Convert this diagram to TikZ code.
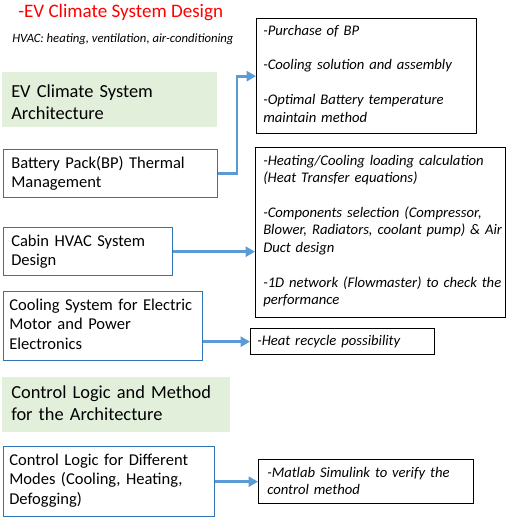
\documentclass[tikz,border=0pt]{standalone}
\usepackage{fontspec}
\setmainfont{Carlito}
\usetikzlibrary{arrows.meta}
\definecolor{boxblue}{HTML}{2E75B6}
\definecolor{arrblue}{HTML}{5B9BD5}
\definecolor{greenfill}{HTML}{E2EFDA}
\tikzset{
  px/.style={x=0.75pt,y=-0.75pt},
  leftbox/.style={draw=boxblue,line width=1pt,fill=white,anchor=north west,inner sep=0pt,rectangle},
  rightbox/.style={draw=black,line width=1pt,fill=white,anchor=north west,inner sep=0pt,rectangle},
  greenbox/.style={fill=greenfill,draw=none,anchor=north west,inner sep=0pt,rectangle},
  lefttext/.style={anchor=base west,inner sep=0pt,text width=#1,align=left,font=\fontsize{12.4}{14.8}\selectfont},
  greentext/.style={anchor=base west,inner sep=0pt,text width=#1,align=left,font=\fontsize{13.8}{17.2}\selectfont},
  righttext/.style={anchor=base west,inner sep=0pt,text width=#1,align=left,font=\fontsize{11}{13.1}\selectfont\itshape},
  arr/.style={draw=arrblue,line width=2.2pt,-{Triangle[length=7pt,width=7.5pt]}}
}
\begin{document}
\begin{tikzpicture}[px]
\useasboundingbox (0,0) rectangle (516,525);
% title
\node[anchor=base west,inner sep=0pt,text=red,font=\fontsize{14.3}{17}\selectfont] (title) at (18,17) {-EV Climate System Design};
\node[anchor=base west,inner sep=0pt,font=\fontsize{9.5}{11}\selectfont\itshape] (hvac) at (12,42) {HVAC: heating, ventilation, air-conditioning};
% green boxes
\node[greenbox,minimum width=215*0.75pt,minimum height=55*0.75pt] (g1) at (2,72) {};
\node[greentext=200*0.75pt] (g1t) at (11,97) {EV Climate System\\Architecture};
\node[greenbox,minimum width=228*0.75pt,minimum height=55*0.75pt] (g2) at (2,377) {};
\node[greentext=220*0.75pt] (g2t) at (11,398) {Control Logic and Method\\for the Architecture};
% left boxes
\node[leftbox,minimum width=214*0.75pt,minimum height=48*0.75pt] (bp) at (3,149) {};
\node[lefttext=205*0.75pt] (bpt) at (11,168) {Battery Pack(BP) Thermal\\Management};
\node[leftbox,minimum width=169*0.75pt,minimum height=48*0.75pt] (cab) at (3,227) {};
\node[lefttext=165*0.75pt] (cabt) at (11,246) {Cabin HVAC System\\Design};
\node[leftbox,minimum width=199*0.75pt,minimum height=69*0.75pt] (cool) at (3,291) {};
\node[lefttext=195*0.75pt] (coolt) at (9,310) {Cooling System for Electric\\Motor and Power\\Electronics};
\node[leftbox,minimum width=211*0.75pt,minimum height=70*0.75pt] (ctl) at (3,446) {};
\node[lefttext=205*0.75pt] (ctlt) at (9,465) {Control Logic for Different\\Modes (Cooling, Heating,\\Defogging)};
% right boxes
\node[rightbox,minimum width=220*0.75pt,minimum height=115*0.75pt] (r1) at (256,18) {};
\node[righttext=210*0.75pt] (r1t) at (263,35) {-Purchase of BP\\[13.1pt]-Cooling solution and assembly\\[13.1pt]-Optimal Battery temperature\\maintain method};
\node[rightbox,minimum width=250*0.75pt,minimum height=170*0.75pt] (r2) at (255,147) {};
\node[righttext=245*0.75pt] (r2t) at (263,165) {-Heating/Cooling loading calculation\\(Heat Transfer equations)\\[13.1pt]-Components selection (Compressor,\\Blower, Radiators, coolant pump) \& Air\\Duct design\\[13.1pt]-1D network (Flowmaster) to check the\\performance};
\node[rightbox,minimum width=184*0.75pt,minimum height=26*0.75pt] (r3) at (250,328) {};
\node[righttext=180*0.75pt] (r3t) at (257,345) {-Heat recycle possibility};
\node[rightbox,minimum width=215*0.75pt,minimum height=44*0.75pt] (r4) at (258,459) {};
\node[righttext=205*0.75pt] (r4t) at (267,477) {-Matlab Simulink to verify the\\control method};
% arrows
\coordinate (bend) at (237,0);
\draw[arr] (bp.east) -- (bp.east -| bend) -- (bend |- r1.west) -- (r1.west);
\draw[arr] (cab.east) -- (r2.west |- cab.east);
\draw[arr] (cool.east |- r3.west) -- (r3.west);
\draw[arr] (ctl.east) -- (r4.west |- ctl.east);
\end{tikzpicture}
\end{document}
